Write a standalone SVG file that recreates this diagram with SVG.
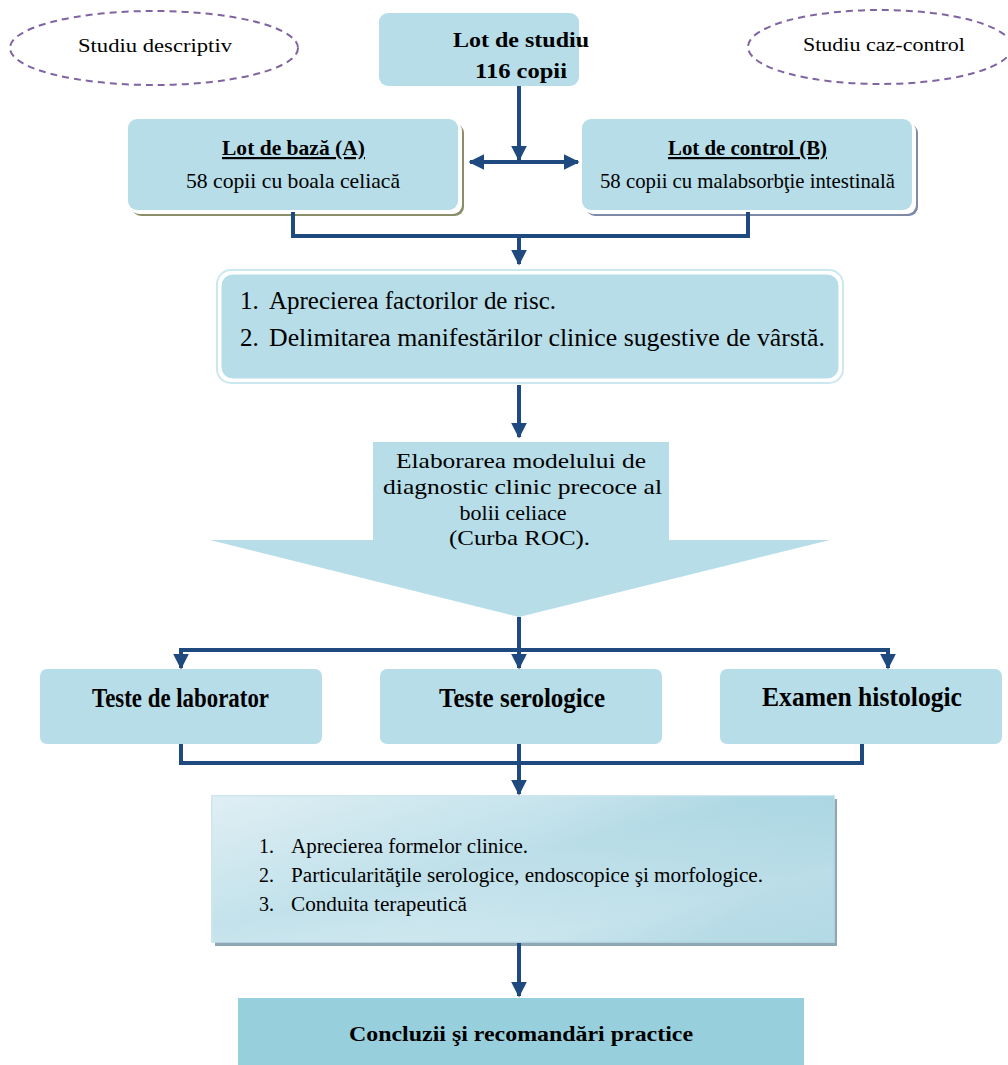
<svg xmlns="http://www.w3.org/2000/svg" width="1008" height="1065" viewBox="0 0 1008 1065">
<style>
text{font-family:'Liberation Serif','Times New Roman',Tinos,'DejaVu Serif',serif;fill:#000}
.box{fill:#b7dde8}
.c{fill:none;stroke:#1f4a7f;stroke-width:4}
.ell{fill:#fff;stroke:#8064a2;stroke-width:2;stroke-dasharray:7 5}
.b{font-weight:bold}
</style>
<defs>
<marker id="ah" viewBox="0 0 10 10" refX="9" refY="5" markerWidth="4" markerHeight="4" orient="auto" markerUnits="strokeWidth">
<path d="M0,0 L10,5 L0,10 z" fill="#1f4a7f"/>
</marker>
<linearGradient id="g3" x1="0" y1="0" x2="1" y2="1">
<stop offset="0" stop-color="#dcedf3"/>
<stop offset="0.45" stop-color="#a8d6e2"/>
<stop offset="0.75" stop-color="#e0eff4"/>
<stop offset="1" stop-color="#cfe7ef"/>
</linearGradient>
<linearGradient id="g3b" x1="0" y1="0" x2="1" y2="0.3">
<stop offset="0" stop-color="#e2f0f5"/>
<stop offset="0.55" stop-color="#cfe7ef"/>
<stop offset="1" stop-color="#9ccfde"/>
</linearGradient>
</defs>

<g id="ellipse-descriptiv">
<ellipse class="ell" cx="154" cy="48" rx="144" ry="37"/>
<text x="78" y="52" font-size="19" textLength="154" lengthAdjust="spacingAndGlyphs">Studiu descriptiv</text>
</g>
<g id="ellipse-caz-control">
<ellipse class="ell" cx="880" cy="47" rx="132" ry="37"/>
<text x="803" y="51" font-size="19" textLength="162" lengthAdjust="spacingAndGlyphs">Studiu caz-control</text>
</g>

<g id="lot-studiu">
<rect class="box" x="379" y="13" width="200" height="73" rx="9"/>
<text class="b" x="453" y="47" font-size="22" textLength="136" lengthAdjust="spacingAndGlyphs">Lot de studiu</text>
<text class="b" x="475" y="78" font-size="22" textLength="92" lengthAdjust="spacingAndGlyphs">116 copii</text>
</g>

<g id="lot-baza">
<rect x="132" y="124" width="332" height="92" rx="9" fill="#8a8f6a"/>
<rect x="130" y="122" width="332" height="92" rx="9" fill="#fff"/>
<rect class="box" x="128" y="119" width="330" height="91" rx="9"/>
<text class="b" x="222" y="155" font-size="22" text-decoration="underline" textLength="143" lengthAdjust="spacingAndGlyphs">Lot de bază (A)</text>
<text x="186" y="188" font-size="21" textLength="214" lengthAdjust="spacingAndGlyphs">58 copii cu boala celiacă</text>
</g>

<g id="lot-control">
<rect x="586" y="124" width="332" height="92" rx="9" fill="#7f8aa8"/>
<rect x="584" y="122" width="332" height="92" rx="9" fill="#fff"/>
<rect class="box" x="582" y="119" width="330" height="91" rx="9"/>
<text class="b" x="668" y="155" font-size="22" text-decoration="underline" textLength="159" lengthAdjust="spacingAndGlyphs">Lot de control (B)</text>
<text x="600" y="188" font-size="21" textLength="295" lengthAdjust="spacingAndGlyphs">58 copii cu malabsorbţie intestinală</text>
</g>

<g id="obiective-1">
<rect x="217" y="270" width="626" height="113" rx="14" fill="#fff" stroke="#cbe8f0" stroke-width="2"/>
<rect class="box" x="221" y="274" width="618" height="105" rx="12" stroke="#ffffff" stroke-width="1"/>
<text x="240" y="309" font-size="25">1.</text>
<text x="269" y="309" font-size="25" textLength="287" lengthAdjust="spacingAndGlyphs">Aprecierea factorilor de risc.</text>
<text x="240" y="346" font-size="25">2.</text>
<text x="269" y="346" font-size="25" textLength="556" lengthAdjust="spacingAndGlyphs">Delimitarea manifestărilor clinice sugestive de vârstă.</text>
</g>

<g id="model-roc">
<path class="box" d="M373,442 H669 V540 H830 L519,617 L210,540 H373 Z"/>
<text x="396" y="468" font-size="22" textLength="250" lengthAdjust="spacingAndGlyphs">Elaborarea modelului de</text>
<text x="383" y="494" font-size="22" textLength="279" lengthAdjust="spacingAndGlyphs">diagnostic clinic precoce al</text>
<text x="513" y="520" font-size="22" text-anchor="middle">bolii celiace</text>
<text x="449" y="545" font-size="22" textLength="141" lengthAdjust="spacingAndGlyphs">(Curba ROC).</text>
</g>

<g id="teste-laborator">
<rect class="box" x="40" y="669" width="282" height="75" rx="7"/>
<text class="b" x="92" y="707" font-size="28" textLength="177" lengthAdjust="spacingAndGlyphs">Teste de laborator</text>
</g>
<g id="teste-serologice">
<rect class="box" x="380" y="669" width="282" height="75" rx="7"/>
<text class="b" x="439" y="707" font-size="28" textLength="166" lengthAdjust="spacingAndGlyphs">Teste serologice</text>
</g>
<g id="examen-histologic">
<rect class="box" x="720" y="669" width="282" height="75" rx="7"/>
<text class="b" x="762" y="706" font-size="28" textLength="200" lengthAdjust="spacingAndGlyphs">Examen histologic</text>
</g>

<g id="obiective-2">
<rect x="215" y="799" width="622" height="147" fill="#8fa7b2"/>
<rect x="212" y="796" width="622" height="146" fill="url(#g3)" stroke="#bfe0ea" stroke-width="1.5"/>
<rect x="212" y="796" width="622" height="146" fill="url(#g3b)" opacity="0.55"/>
<text x="259" y="853" font-size="20">1.</text>
<text x="291" y="853" font-size="20" textLength="237" lengthAdjust="spacingAndGlyphs">Aprecierea formelor clinice.</text>
<text x="259" y="882" font-size="20">2.</text>
<text x="291" y="882" font-size="20" textLength="472" lengthAdjust="spacingAndGlyphs">Particularităţile serologice, endoscopice şi morfologice.</text>
<text x="259" y="911" font-size="20">3.</text>
<text x="291" y="911" font-size="20" textLength="176" lengthAdjust="spacingAndGlyphs">Conduita terapeutică</text>
</g>

<g id="concluzii">
<rect x="238" y="998" width="566" height="67" fill="#98cfdd"/>
<text class="b" x="349" y="1041" font-size="21" textLength="344" lengthAdjust="spacingAndGlyphs">Concluzii şi recomandări practice</text>
</g>

<g id="connectors">
<path class="c" d="M519,86 V160" marker-end="url(#ah)"/>
<path class="c" d="M519,162 H578" marker-end="url(#ah)"/>
<path class="c" d="M519,162 H470" marker-end="url(#ah)"/>
<path class="c" d="M293,212 V236 H748 V212"/>
<path class="c" d="M519,236 V264" marker-end="url(#ah)"/>
<path class="c" d="M519,385 V437" marker-end="url(#ah)"/>
<path class="c" d="M519,617 V650"/>
<path class="c" d="M181,668 V650 H888 V668" marker-end="url(#ah)"/>
<path class="c" d="M181,652 V668" marker-end="url(#ah)"/>
<path class="c" d="M519,650 V668" marker-end="url(#ah)"/>
<path class="c" d="M181,744 V763 H862 V744"/>
<path class="c" d="M519,744 V794" marker-end="url(#ah)"/>
<path class="c" d="M519,943 V996" marker-end="url(#ah)"/>
</g>
</svg>
